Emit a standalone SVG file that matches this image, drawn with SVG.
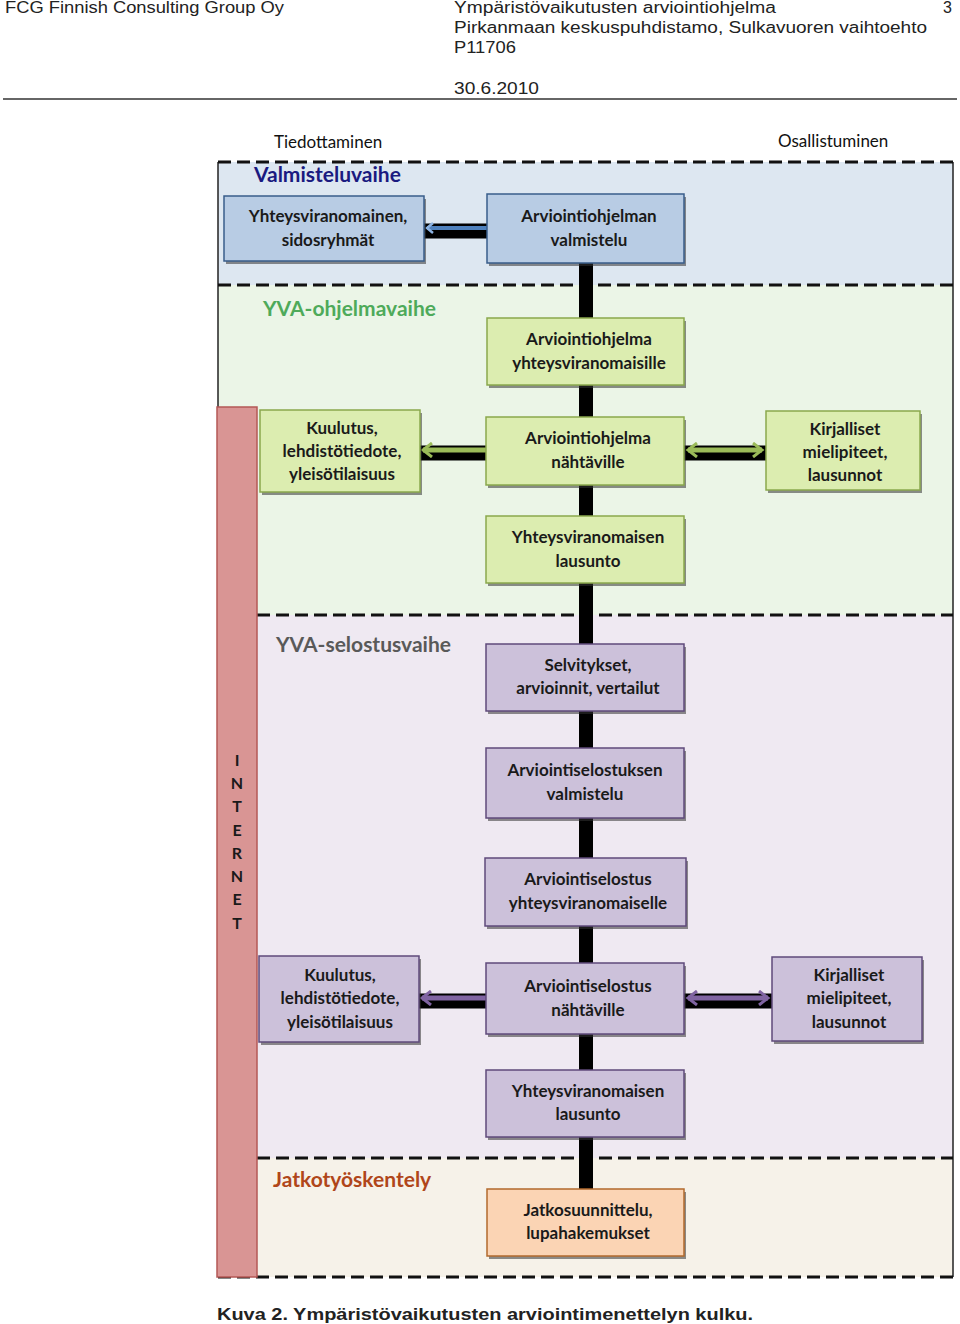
<svg xmlns="http://www.w3.org/2000/svg" width="960" height="1324" viewBox="0 0 960 1324">
<style>
.hdr{font-family:"Liberation Sans",Arial,sans-serif;font-size:16px;fill:#222}
.lbl{font-family:Lato,"Open Sans",sans-serif;font-size:17px;fill:#111}
.nt{font-family:Lato,"Open Sans",sans-serif;font-size:17px;font-weight:bold;fill:#1a1a1a;text-anchor:middle}
.ph{font-family:Lato,"Open Sans",sans-serif;font-size:21px;font-weight:bold}
.dash{stroke:#111;stroke-width:3;stroke-dasharray:13 6;fill:none}
.blue{fill:#b8cce4;stroke:#385d8a;stroke-width:1.5}
.green{fill:#dcedb0;stroke:#8aa84c;stroke-width:1.5}
.purple{fill:#ccc1da;stroke:#5f4a7b;stroke-width:1.5}
.peach{fill:#fbd4b4;stroke:#b26a2c;stroke-width:1.5}
.shadow{fill:#333;opacity:0.55}
.spine{stroke:#000;stroke-width:14}
.bar{stroke:#000;stroke-width:15}
</style>
<defs>
<marker id="ahB" markerWidth="10" markerHeight="12" refX="8" refY="6" orient="auto-start-reverse" markerUnits="userSpaceOnUse"><path d="M2,1 L8,6 L2,11" fill="none" stroke="#8db3e2" stroke-width="2.5"/></marker>
<marker id="ahG" markerWidth="14" markerHeight="16" refX="11" refY="8" orient="auto-start-reverse" markerUnits="userSpaceOnUse"><path d="M2,1 L11,8 L2,15" fill="none" stroke="#9bbb59" stroke-width="3"/></marker>
<marker id="ahP" markerWidth="14" markerHeight="16" refX="11" refY="8" orient="auto-start-reverse" markerUnits="userSpaceOnUse"><path d="M2,1 L11,8 L2,15" fill="none" stroke="#8064a2" stroke-width="3"/></marker>
</defs>
<rect width="960" height="1324" fill="#fff"/>
<g id="header">
<text class="hdr" x="5" y="13" textLength="279" lengthAdjust="spacingAndGlyphs">FCG Finnish Consulting Group Oy</text>
<text class="hdr" x="454" y="13" textLength="322" lengthAdjust="spacingAndGlyphs">Ympäristövaikutusten arviointiohjelma</text>
<text class="hdr" x="943" y="13">3</text>
<text class="hdr" x="454" y="33" textLength="473" lengthAdjust="spacingAndGlyphs">Pirkanmaan keskuspuhdistamo, Sulkavuoren vaihtoehto</text>
<text class="hdr" x="454" y="53" textLength="62" lengthAdjust="spacingAndGlyphs">P11706</text>
<text class="hdr" x="454" y="94" textLength="85" lengthAdjust="spacingAndGlyphs">30.6.2010</text>
<line x1="3" y1="99" x2="957" y2="99" stroke="#333" stroke-width="1.5"/>
</g>
<text class="lbl" x="274" y="148">Tiedottaminen</text>
<text class="lbl" x="778" y="147">Osallistuminen</text>
<g id="phases">
<rect x="218" y="162" width="735" height="123" fill="#dde7f1"/>
<rect x="218" y="285" width="735" height="330" fill="#ebf5e7"/>
<rect x="257" y="615" width="696" height="543" fill="#efe9f2"/>
<rect x="257" y="1158" width="696" height="119" fill="#f6f2e9"/>
<line x1="218" y1="162" x2="218" y2="407" stroke="#222" stroke-width="1.5"/>
<line x1="953" y1="162" x2="953" y2="1277" stroke="#222" stroke-width="1.5"/>
<line class="dash" x1="218" y1="162" x2="953" y2="162"/>
<line class="dash" x1="218" y1="285" x2="953" y2="285"/>
<line class="dash" x1="257" y1="615" x2="953" y2="615"/>
<line class="dash" x1="257" y1="1158" x2="953" y2="1158"/>
<line class="dash" x1="218" y1="1277" x2="953" y2="1277"/>
<text class="ph" x="254" y="182" fill="#1a1a80">Valmisteluvaihe</text>
<text class="ph" x="263" y="316" fill="#4eaa5a">YVA-ohjelmavaihe</text>
<text class="ph" x="276" y="652" fill="#595959">YVA-selostusvaihe</text>
<text class="ph" x="273" y="1187" fill="#b0461a">Jatkotyöskentely</text>
</g>
<g id="internet">
<rect x="217" y="407" width="40" height="870" fill="#d99594" stroke="#b45856" stroke-width="1.5"/>
<g class="nt" style="font-size:16px">
<text x="237" y="766">I</text><text x="237" y="789">N</text><text x="237" y="812">T</text><text x="237" y="836">E</text><text x="237" y="859">R</text><text x="237" y="882">N</text><text x="237" y="905">E</text><text x="237" y="929">T</text>
</g>
</g>
<g id="connectors">
<line class="spine" x1="586" y1="262" x2="586" y2="1190"/>
<line class="bar" x1="424" y1="231" x2="487" y2="231"/>
<line x1="487" y1="228" x2="427" y2="228" stroke="#4f81bd" stroke-width="4" marker-end="url(#ahB)"/>
<line class="bar" x1="420" y1="453" x2="486" y2="453"/>
<line x1="486" y1="450" x2="423" y2="450" stroke="#9bbb59" stroke-width="5" marker-end="url(#ahG)"/>
<line class="bar" x1="684" y1="453" x2="766" y2="453"/>
<line x1="688" y1="450" x2="762" y2="450" stroke="#9bbb59" stroke-width="5" marker-start="url(#ahG)" marker-end="url(#ahG)"/>
<line class="bar" x1="419" y1="1001" x2="486" y2="1001"/>
<line x1="486" y1="998" x2="422" y2="998" stroke="#8064a2" stroke-width="5" marker-end="url(#ahP)"/>
<line class="bar" x1="684" y1="1001" x2="772" y2="1001"/>
<line x1="688" y1="998" x2="768" y2="998" stroke="#8064a2" stroke-width="5" marker-start="url(#ahP)" marker-end="url(#ahP)"/>
</g>
<g id="n1"><rect class="shadow" x="226" y="199" width="200" height="65"/><rect class="blue" x="224" y="196" width="200" height="65"/><text class="nt" x="328" y="222">Yhteysviranomainen,</text><text class="nt" x="328" y="246">sidosryhmät</text></g>
<g id="n2"><rect class="shadow" x="489" y="197" width="197" height="69"/><rect class="blue" x="487" y="194" width="197" height="69"/><text class="nt" x="589" y="222">Arviointiohjelman</text><text class="nt" x="589" y="246">valmistelu</text></g>
<g id="n3"><rect class="shadow" x="489" y="321" width="197" height="67"/><rect class="green" x="487" y="318" width="197" height="67"/><text class="nt" x="589" y="345">Arviointiohjelma</text><text class="nt" x="589" y="369">yhteysviranomaisille</text></g>
<g id="n4"><rect class="shadow" x="262" y="413" width="160" height="82"/><rect class="green" x="260" y="410" width="160" height="82"/><text class="nt" x="342" y="434">Kuulutus,</text><text class="nt" x="342" y="457">lehdistötiedote,</text><text class="nt" x="342" y="480">yleisötilaisuus</text></g>
<g id="n5"><rect class="shadow" x="488" y="420" width="198" height="68"/><rect class="green" x="486" y="417" width="198" height="68"/><text class="nt" x="588" y="444">Arviointiohjelma</text><text class="nt" x="588" y="468">nähtäville</text></g>
<g id="n6"><rect class="shadow" x="768" y="414" width="154" height="79"/><rect class="green" x="766" y="411" width="154" height="79"/><text class="nt" x="845" y="435">Kirjalliset</text><text class="nt" x="845" y="458">mielipiteet,</text><text class="nt" x="845" y="481">lausunnot</text></g>
<g id="n7"><rect class="shadow" x="488" y="519" width="198" height="67"/><rect class="green" x="486" y="516" width="198" height="67"/><text class="nt" x="588" y="543">Yhteysviranomaisen</text><text class="nt" x="588" y="567">lausunto</text></g>
<g id="n8"><rect class="shadow" x="488" y="647" width="198" height="67"/><rect class="purple" x="486" y="644" width="198" height="67"/><text class="nt" x="588" y="671">Selvitykset,</text><text class="nt" x="588" y="694">arvioinnit, vertailut</text></g>
<g id="n9"><rect class="shadow" x="488" y="751" width="198" height="70"/><rect class="purple" x="486" y="748" width="198" height="70"/><text class="nt" x="585" y="776">Arviointiselostuksen</text><text class="nt" x="585" y="800">valmistelu</text></g>
<g id="n10"><rect class="shadow" x="487" y="861" width="201" height="68"/><rect class="purple" x="485" y="858" width="201" height="68"/><text class="nt" x="588" y="885">Arviointiselostus</text><text class="nt" x="588" y="909">yhteysviranomaiselle</text></g>
<g id="n11"><rect class="shadow" x="261" y="959" width="160" height="86"/><rect class="purple" x="259" y="956" width="160" height="86"/><text class="nt" x="340" y="981">Kuulutus,</text><text class="nt" x="340" y="1004">lehdistötiedote,</text><text class="nt" x="340" y="1028">yleisötilaisuus</text></g>
<g id="n12"><rect class="shadow" x="488" y="966" width="198" height="71"/><rect class="purple" x="486" y="963" width="198" height="71"/><text class="nt" x="588" y="992">Arviointiselostus</text><text class="nt" x="588" y="1016">nähtäville</text></g>
<g id="n13"><rect class="shadow" x="774" y="960" width="150" height="84"/><rect class="purple" x="772" y="957" width="150" height="84"/><text class="nt" x="849" y="981">Kirjalliset</text><text class="nt" x="849" y="1004">mielipiteet,</text><text class="nt" x="849" y="1028">lausunnot</text></g>
<g id="n14"><rect class="shadow" x="488" y="1073" width="198" height="67"/><rect class="purple" x="486" y="1070" width="198" height="67"/><text class="nt" x="588" y="1097">Yhteysviranomaisen</text><text class="nt" x="588" y="1120">lausunto</text></g>
<g id="n15"><rect class="shadow" x="489" y="1192" width="197" height="67"/><rect class="peach" x="487" y="1189" width="197" height="67"/><text class="nt" x="588" y="1216">Jatkosuunnittelu,</text><text class="nt" x="588" y="1239">lupahakemukset</text></g>
<text x="217" y="1320" font-family="Liberation Sans,Arial,sans-serif" font-size="16" font-weight="bold" fill="#222" textLength="536" lengthAdjust="spacingAndGlyphs">Kuva 2. Ympäristövaikutusten arviointimenettelyn kulku.</text>
</svg>
